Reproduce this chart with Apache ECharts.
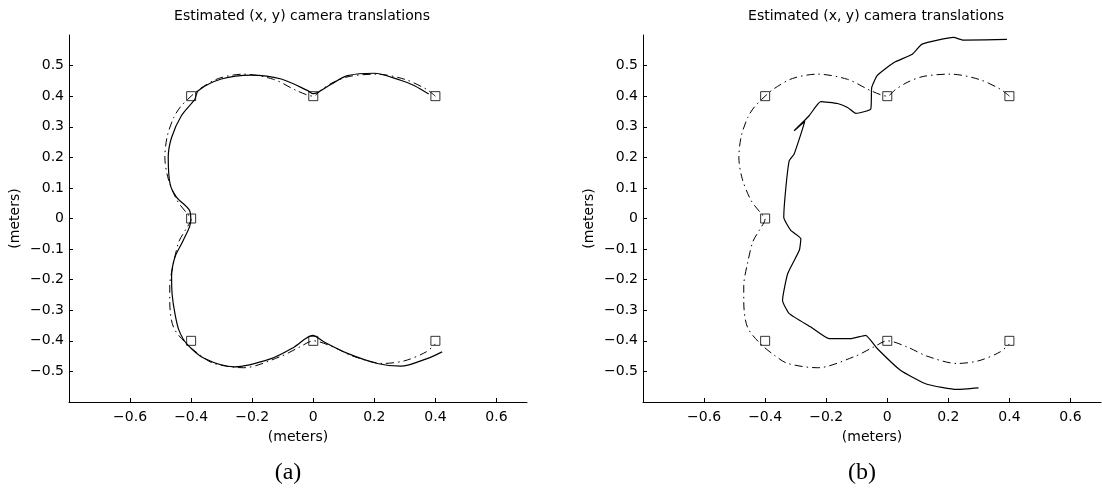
<!DOCTYPE html>
<html>
<head>
<meta charset="utf-8">
<script src="https://cdn.jsdelivr.net/npm/echarts@6/dist/echarts.min.js"></script>
<style>
  html, body { margin: 0; padding: 0; background: #fff; }
  #chart { width: 1102px; height: 497px; }
</style>
</head>
<body>
<div id="chart"></div>
<script>
// tick labels
const xTicks = [-0.6, -0.4, -0.2, 0, 0.2, 0.4, 0.6]
const yTicks = [-0.5, -0.4, -0.3, -0.2, -0.1, 0, 0.1, 0.2, 0.3, 0.4, 0.5]

// camera positions (squares)
const markX = [-0.4, 0, 0.4, -0.4, -0.4, 0, 0.4]
const markY = [0.4, 0.4, 0.4, 0, -0.4, -0.4, -0.4]

// true path (dash-dot)
const truthX = [0.40, 0.37, 0.30, 0.207, 0.12, 0.065, 0.025, 0.00, -0.054, -0.13, -0.228, -0.31, -0.37, -0.40,
  -0.435, -0.457, -0.478, -0.486, -0.475, -0.446, -0.413, -0.40, -0.42, -0.44, -0.458, -0.47, -0.47, -0.458,
  -0.415, -0.37, -0.326, -0.228, -0.109, -0.044, 0.00, 0.065, 0.13, 0.228, 0.30, 0.37, 0.40]
const truthY = [0.40, 0.423, 0.455, 0.472, 0.465, 0.445, 0.42, 0.40, 0.418, 0.455, 0.472, 0.458, 0.425, 0.40,
  0.365, 0.33, 0.27, 0.20, 0.13, 0.059, 0.016, 0.00, -0.04, -0.075, -0.148, -0.22, -0.27, -0.355,
  -0.41, -0.447, -0.474, -0.488, -0.452, -0.42, -0.40, -0.42, -0.45, -0.474, -0.465, -0.436, -0.41]

// estimate (a)
const estAX = [0.378, 0.33, 0.286, 0.199, 0.112, 0.06, 0.014, 0.0, -0.018, -0.105, -0.203, -0.301, -0.377, -0.388,
  -0.432, -0.464, -0.475, -0.469, -0.448, -0.405, -0.401, -0.426, -0.453, -0.464, -0.462, -0.453, -0.44, -0.415,
  -0.356, -0.258, -0.138, -0.062, -0.002, 0.036, 0.112, 0.21, 0.286, 0.373, 0.422]
const estAY = [0.407, 0.435, 0.452, 0.475, 0.467, 0.44, 0.412, 0.408, 0.418, 0.456, 0.469, 0.456, 0.418, 0.39,
  0.336, 0.265, 0.2, 0.113, 0.07, 0.026, -0.007, -0.072, -0.126, -0.19, -0.25, -0.311, -0.365, -0.409,
  -0.458, -0.485, -0.458, -0.42, -0.382, -0.404, -0.441, -0.474, -0.483, -0.458, -0.436]

// estimate (b)
const estBX = [0.392, 0.25, 0.217, 0.114, 0.082, 0.022, -0.033, -0.051, -0.054, -0.103, -0.13, -0.163, -0.218,
  -0.256, -0.305, -0.27, -0.283, -0.305, -0.321, -0.332, -0.339, -0.316, -0.283, -0.288, -0.326, -0.343, -0.321,
  -0.25, -0.19, -0.12, -0.071, -0.033, 0.043, 0.13, 0.228, 0.299]
const estBY = [0.586, 0.583, 0.592, 0.57, 0.537, 0.51, 0.467, 0.428, 0.358, 0.344, 0.363, 0.376, 0.382,
  0.336, 0.287, 0.318, 0.276, 0.211, 0.189, 0.102, 0.004, -0.039, -0.066, -0.104, -0.18, -0.268, -0.311,
  -0.355, -0.393, -0.393, -0.382, -0.425, -0.496, -0.542, -0.559, -0.554]

const pairs = (xs, ys) => xs.map((x, i) => [x, ys[i]])
const minus = v => String(v).replace('-', '\u2212')
const font = 'DejaVu Sans'

function xAxisOpt(idx) {
  return {
    type: 'value', gridIndex: idx, min: -0.8, max: 0.7,
    name: '(meters)', nameLocation: 'middle', nameGap: 28,
    nameTextStyle: { color: '#000', fontSize: 14, fontFamily: font },
    axisLine: { onZero: false, lineStyle: { color: '#000', width: 1 } },
    axisTick: { inside: true, length: 4, lineStyle: { color: '#000' }, customValues: xTicks },
    axisLabel: { color: '#000', fontSize: 14, fontFamily: font, margin: 8, customValues: xTicks, formatter: minus },
    splitLine: { show: false }
  }
}
function yAxisOpt(idx) {
  return {
    type: 'value', gridIndex: idx, min: -0.6, max: 0.6,
    name: '(meters)', nameLocation: 'middle', nameGap: 47, nameRotate: 90,
    nameTextStyle: { color: '#000', fontSize: 14, fontFamily: font },
    axisLine: { onZero: false, lineStyle: { color: '#000', width: 1 } },
    axisTick: { inside: true, length: 4, lineStyle: { color: '#000' }, customValues: yTicks },
    axisLabel: { color: '#000', fontSize: 14, fontFamily: font, margin: 5, customValues: yTicks, formatter: minus },
    splitLine: { show: false }
  }
}
function seriesFor(idx, est, smoothEst) {
  return [{
    type: 'line', xAxisIndex: idx, yAxisIndex: idx, data: pairs(truthX, truthY),
    showSymbol: false, smooth: 0.3, silent: true,
    lineStyle: { color: '#000', width: 1, type: [8, 4, 1.5, 4] }
  }, {
    type: 'line', xAxisIndex: idx, yAxisIndex: idx, data: est,
    showSymbol: false, smooth: smoothEst, silent: true,
    lineStyle: { color: '#000', width: 1.2 }
  }, {
    type: 'scatter', xAxisIndex: idx, yAxisIndex: idx, data: pairs(markX, markY),
    symbol: 'rect', symbolSize: 9, silent: true,
    itemStyle: { color: '#fff', borderColor: '#000', borderWidth: 1 }
  }]
}

const chart = echarts.init(document.getElementById('chart'))
chart.setOption({
  animation: false,
  backgroundColor: '#fff',
  grid: [
    { left: 69, top: 35, width: 458, height: 367 },
    { left: 643, top: 35, width: 458, height: 367 }
  ],
  xAxis: [xAxisOpt(0), xAxisOpt(1)],
  yAxis: [yAxisOpt(0), yAxisOpt(1)],
  graphic: [
    { type: 'text', x: 302, y: 16, style: { text: 'Estimated (x, y) camera translations', fill: '#000', font: '14px "DejaVu Sans"', align: 'center', verticalAlign: 'middle' } },
    { type: 'text', x: 876, y: 16, style: { text: 'Estimated (x, y) camera translations', fill: '#000', font: '14px "DejaVu Sans"', align: 'center', verticalAlign: 'middle' } },
    { type: 'text', x: 288, y: 473, style: { text: '(a)', fill: '#000', font: '24px "Liberation Serif"', align: 'center', verticalAlign: 'middle' } },
    { type: 'text', x: 862, y: 473, style: { text: '(b)', fill: '#000', font: '24px "Liberation Serif"', align: 'center', verticalAlign: 'middle' } }
  ],
  series: [].concat(
    seriesFor(0, pairs(estAX, estAY), 0.3),
    seriesFor(1, pairs(estBX, estBY), 0.15)
  )
})
</script>
</body>
</html>
